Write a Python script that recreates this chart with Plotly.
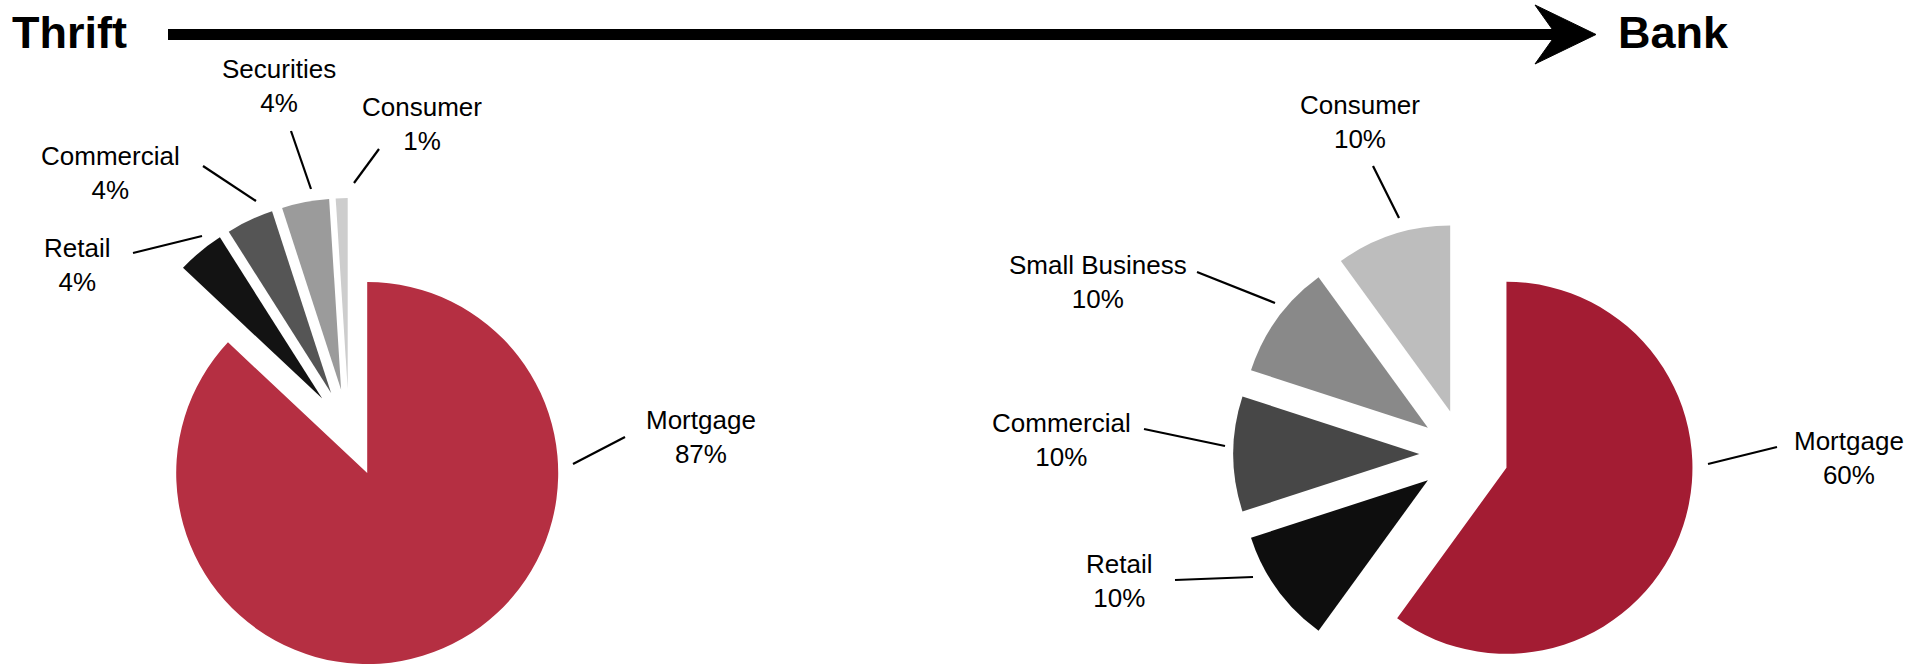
import math
import plotly.graph_objects as go

W, H = 1918, 667

# Loan mix data
thrift_labels = ["Mortgage", "Retail", "Commercial", "Securities", "Consumer"]
thrift_values = [87, 4, 4, 4, 1]
thrift_colors = ["#b52f42", "#131313", "#555555", "#9b9b9b", "#cdcdcd"]

bank_labels = ["Mortgage", "Retail", "Commercial", "Small Business", "Consumer"]
bank_values = [60, 10, 10, 10, 10]
bank_colors = ["#a31c33", "#0e0e0e", "#474747", "#898989", "#bdbdbd"]

FONT = "Liberation Sans, Arial, sans-serif"


def px(x):
    return x / W


def py(y):
    return 1 - y / H


def clamp(v):
    return min(1.0, max(0.0, v))


def exploded_pie(fig, labels, values, colors, center, radius, pulls):
    """One pie trace per slice so every slice can be offset along its own
    mid-angle without shrinking the pie."""
    total = float(sum(values))
    cum = 0.0
    for i, v in enumerate(values):
        mid = math.radians((cum + v / 2.0) / total * 360.0)
        cum += v
        cx = center[0] + pulls[i] * radius * math.sin(mid)
        cy = center[1] - pulls[i] * radius * math.cos(mid)
        fig.add_trace(go.Pie(
            labels=labels,
            values=values,
            sort=False,
            direction="clockwise",
            rotation=0,
            marker=dict(
                colors=[colors[j] if j == i else "rgba(0,0,0,0)" for j in range(len(values))],
                line=dict(width=0),
            ),
            textinfo="none",
            hoverinfo="label+percent",
            showlegend=False,
            domain=dict(
                x=[clamp(px(cx - radius)), clamp(px(cx + radius))],
                y=[clamp(py(cy + radius)), clamp(py(cy - radius))],
            ),
        ))


fig = go.Figure()
exploded_pie(fig, thrift_labels, thrift_values, thrift_colors, (349, 431), 191,
             [0.24, 0.22, 0.22, 0.22, 0.22])
exploded_pie(fig, bank_labels, bank_values, bank_colors, (1464, 454), 186,
             [0.24, 0.24, 0.24, 0.24, 0.24])

# Label placement (text centre) and leader line end points, in pixels
thrift_label_pos = [(701, 437), (77, 265), (110, 173), (279, 86), (422, 124)]
thrift_leaders = [((573, 464), (625, 437)), ((133, 253), (202, 236)),
                  ((203, 166), (256, 201)), ((291, 131), (311, 189)),
                  ((379, 149), (354, 183))]
bank_label_pos = [(1849, 458), (1119, 581), (1061, 440), (1098, 282), (1360, 122)]
bank_leaders = [((1708, 464), (1777, 447)), ((1175, 580), (1253, 577)),
                ((1144, 429), (1225, 446)), ((1197, 272), (1275, 303)),
                ((1373, 166), (1399, 218))]

annotations = []
shapes = []
for labels, values, pos, leaders in [
    (thrift_labels, thrift_values, thrift_label_pos, thrift_leaders),
    (bank_labels, bank_values, bank_label_pos, bank_leaders),
]:
    for lab, val, (lx, ly), ((x0, y0), (x1, y1)) in zip(labels, values, pos, leaders):
        annotations.append(dict(
            x=px(lx), y=py(ly), xref="paper", yref="paper",
            text=f"{lab}<br>{val}%", showarrow=False,
            xanchor="center", yanchor="middle", align="center",
            font=dict(family=FONT, size=26, color="black"),
        ))
        shapes.append(dict(
            type="line", xref="paper", yref="paper",
            x0=px(x0), y0=py(y0), x1=px(x1), y1=py(y1),
            line=dict(color="black", width=2.2),
        ))

# Header: Thrift -> Bank
annotations.append(dict(
    x=px(10), y=py(32), xref="paper", yref="paper", text="Thrift",
    showarrow=False, xanchor="left", yanchor="middle",
    font=dict(family=FONT, size=45, color="black", weight="bold"),
))
annotations.append(dict(
    x=px(1616), y=py(32), xref="paper", yref="paper", text="Bank",
    showarrow=False, xanchor="left", yanchor="middle",
    font=dict(family=FONT, size=45, color="black", weight="bold"),
))
shapes.append(dict(
    type="line", xref="paper", yref="paper",
    x0=px(168), y0=py(34.5), x1=px(1558), y1=py(34.5),
    line=dict(color="black", width=11),
))
head = [(1535, 5), (1596, 34.5), (1535, 64), (1556, 34.5)]
path = "M " + " L ".join(f"{px(x):.6f},{py(y):.6f}" for x, y in head) + " Z"
shapes.append(dict(
    type="path", xref="paper", yref="paper", path=path,
    fillcolor="black", line=dict(color="black", width=1),
))

fig.update_layout(
    width=W, height=H,
    margin=dict(l=0, r=0, t=0, b=0),
    paper_bgcolor="white", plot_bgcolor="white",
    showlegend=False,
    annotations=annotations,
    shapes=shapes,
)

fig.write_html("out.html")
